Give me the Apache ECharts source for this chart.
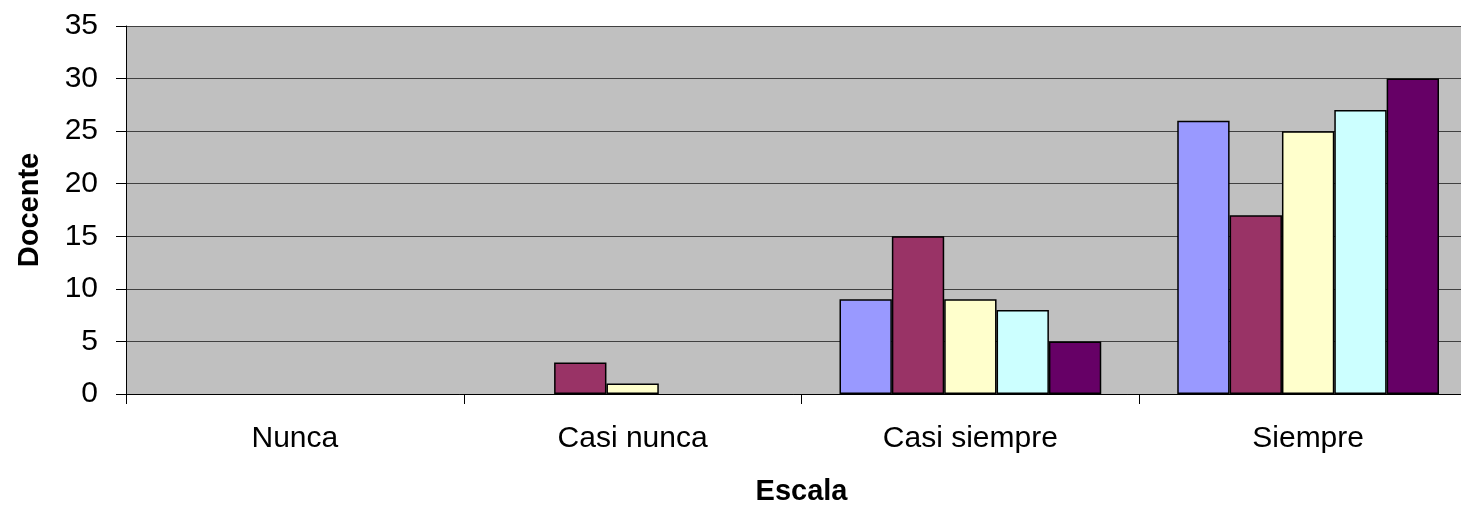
<!DOCTYPE html>
<html>
<head>
<meta charset="utf-8">
<script src="https://cdn.jsdelivr.net/npm/echarts@6/dist/echarts.min.js"></script>
<style>
html,body{margin:0;padding:0;background:#fff;overflow:hidden;}
#chart{width:1461px;height:506px;}
</style>
</head>
<body>
<div id="chart"></div>
<script>
const categories = ['Nunca', 'Casi nunca', 'Casi siempre', 'Siempre'];
const series1 = [0, 0, 9, 26];
const series2 = [0, 3, 15, 17];
const series3 = [0, 1, 9, 25];
const series4 = [0, 0, 8, 27];
const series5 = [0, 0, 5, 30];
const yTicks = [0, 5, 10, 15, 20, 25, 30, 35];
const colors = ['#9999FF', '#993366', '#FFFFCC', '#CCFFFF', '#660066'];
const allSeries = [series1, series2, series3, series4, series5];

const chart = echarts.init(document.getElementById('chart'));
const font = 'Liberation Sans, Arial, sans-serif';
chart.setOption({
  animation: false,
  backgroundColor: '#ffffff',
  grid: {
    left: 126, top: 26, right: -16, bottom: 112,
    outerBoundsMode: 'none', containLabel: false,
    backgroundColor: '#C0C0C0', show: true, borderWidth: 0
  },
  xAxis: {
    type: 'category',
    data: categories,
    name: 'Escala',
    nameLocation: 'middle',
    nameGap: 83,
    nameTextStyle: { fontFamily: font, fontSize: 29, fontWeight: 'bold', color: '#000' },
    axisLine: { show: true, lineStyle: { color: '#000', width: 1 } },
    axisTick: { show: true, length: 10, alignWithLabel: false, lineStyle: { color: '#000' } },
    axisLabel: { fontFamily: font, fontSize: 30, color: '#000', margin: 30 },
    splitLine: { show: false }
  },
  yAxis: {
    type: 'value',
    min: yTicks[0],
    max: yTicks[yTicks.length - 1],
    interval: 5,
    name: 'Docente',
    nameLocation: 'middle',
    nameGap: 82,
    nameRotate: 90,
    nameTextStyle: { fontFamily: font, fontSize: 29, fontWeight: 'bold', color: '#000' },
    axisLine: { show: true, lineStyle: { color: '#000', width: 1 } },
    axisTick: { show: true, length: 10, lineStyle: { color: '#000' } },
    axisLabel: { fontFamily: font, fontSize: 30, color: '#000', margin: 28 },
    splitLine: { show: true, lineStyle: { color: '#404040', width: 1 } }
  },
  series: allSeries.map((d, i) => ({
    type: 'bar',
    data: d.map(v => v === 0 ? { value: v, itemStyle: { borderWidth: 0 } } : v),
    barGap: '0%',
    barCategoryGap: '22.5%',
    itemStyle: { color: colors[i], borderColor: '#000', borderWidth: 1.5 }
  }))
});
</script>
</body>
</html>
